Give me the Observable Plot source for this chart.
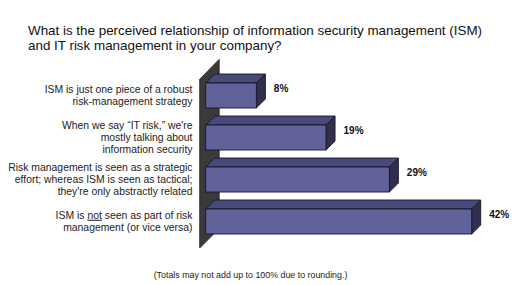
<!DOCTYPE html>
<html>
<head>
<meta charset="utf-8">
<script src="https://cdn.jsdelivr.net/npm/d3@7"></script>
<script src="https://cdn.jsdelivr.net/npm/@observablehq/plot@0.6"></script>
<style>
  html, body { margin: 0; padding: 0; background: #fff; }
  body { width: 512px; height: 285px; overflow: hidden; font-family: Arial, "Liberation Sans", sans-serif; }
  #title { box-sizing: border-box; height: 48px; padding: 24px 0 0 28px; font-size: 13.4px; line-height: 14.5px; color: #111; white-space: nowrap; }
  #chart svg { display: block; }
  #note { box-sizing: border-box; width: 501px; height: 22px; padding-top: 7px; text-align: center; font-size: 8.85px; line-height: 10px; color: #222; }
</style>
</head>
<body>
<div id="title">What is the perceived relationship of information security management (ISM)<br>and IT risk management in your company?</div>
<div id="chart"></div>
<div id="note">(Totals may not add up to 100% due to rounding.)</div>
<script>
const categories = [
  "ISM is just one piece of a robust\nrisk-management strategy",
  "When we say \u201cIT risk,\u201d we're\nmostly talking about\ninformation security",
  "Risk management is seen as a strategic\neffort; whereas ISM is seen as tactical;\nthey're only abstractly related",
  "ISM is not seen as part of risk\nmanagement (or vice versa)"
];
const values = [8, 19, 29, 42];
const valueLabels = ["8%", "19%", "29%", "42%"];

const data = categories.map((c, i) => ({category: c, value: values[i], label: valueLabels[i]}));

const DEPTH = 9;
const frontColor = "#62629a";
const topColor = "#4a4a7a";
const sideColor = "#30304e";
const edge = "#15152a";

function bandwidthOf(y) {
  return typeof y.bandwidth === "function" ? y.bandwidth() : 25;
}

// wall behind bars, derived from the scales
function wallMark(index, scales) {
  const {x, y} = scales;
  const bw = bandwidthOf(y);
  const x0 = x(0);
  const top = y(categories[0]);
  const bottom = y(categories[categories.length - 1]) + bw;
  const fx = x0 - 6, bx = x0 + 13.5;
  const ft = top - 3.7, bt = ft - 20;
  const fb = bottom + 14, bb = fb - 19.5;
  const g = d3.create("svg:g");
  g.append("path")
    .attr("d", `M${fx},${ft}L${bx},${bt}L${bx},${bb}L${fx},${fb}Z`)
    .attr("fill", "#3a3a3a")
    .attr("stroke", "#222")
    .attr("stroke-width", 0.8);
  return g.node();
}

// top and side faces of 3D bars
function depthMark(index, scales) {
  const {x, y} = scales;
  const bw = bandwidthOf(y);
  const g = d3.create("svg:g");
  for (const d of data) {
    const x0 = x(0), x1 = x(d.value);
    const y0 = y(d.category), y1 = y0 + bw;
    g.append("path")
      .attr("d", `M${x0},${y0}L${x0 + DEPTH},${y0 - DEPTH}L${x1 + DEPTH},${y0 - DEPTH}L${x1},${y0}Z`)
      .attr("fill", topColor).attr("stroke", edge).attr("stroke-width", 0.9).attr("stroke-linejoin", "round");
    g.append("path")
      .attr("d", `M${x1},${y0}L${x1 + DEPTH},${y0 - DEPTH}L${x1 + DEPTH},${y1 - DEPTH}L${x1},${y1}Z`)
      .attr("fill", sideColor).attr("stroke", edge).attr("stroke-width", 0.9).attr("stroke-linejoin", "round");
  }
  return g.node();
}

const plot = Plot.plot({
  width: 512,
  height: 215,
  margin: 0,
  style: {fontFamily: 'Arial, "Liberation Sans", sans-serif', background: "#fff", overflow: "visible"},
  x: {domain: [0, 42], range: [205.7, 471.7], axis: null},
  y: {domain: categories, range: [33.7, 186.2], paddingInner: 0.41, paddingOuter: 0, axis: null},
  marks: [
    wallMark,
    depthMark,
    Plot.barX(data, {x: "value", y: "category", fill: frontColor, stroke: edge, strokeWidth: 0.9}),
    Plot.text(data, {
      x: "value", y: "category", text: "label",
      dx: DEPTH + 8, dy: -7, textAnchor: "start",
      fontWeight: "bold", fontSize: 10, fill: "#111"
    }),
    Plot.text(data, {
      x: () => 0, y: "category", text: "category",
      dx: -13.7, dy: -1, textAnchor: "end",
      fontSize: 10.4, lineHeight: 1.2, fill: "#222"
    })
  ]
});

document.getElementById("chart").append(plot);

// underline the word "not" in the last label
d3.select(plot).selectAll("text tspan").each(function() {
  const t = this.textContent;
  const idx = t.indexOf(" not ");
  if (t.startsWith("ISM is not")) {
    const sel = d3.select(this);
    sel.text("");
    sel.append("tspan").text(t.slice(0, idx + 1));
    sel.append("tspan").attr("text-decoration", "underline").style("text-decoration", "underline").text("not");
    sel.append("tspan").text(t.slice(idx + 4));
  }
});
</script>
</body>
</html>
